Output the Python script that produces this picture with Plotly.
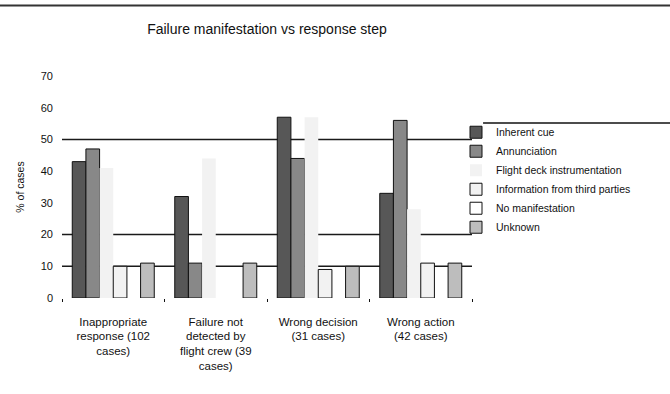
import plotly.graph_objects as go

categories = [
    "Inappropriate<br>response (102<br>cases)",
    "Failure not<br>detected by<br>flight crew (39<br>cases)",
    "Wrong decision<br>(31 cases)",
    "Wrong action<br>(42 cases)",
]
series_names = [
    "Inherent cue",
    "Annunciation",
    "Flight deck instrumentation",
    "Information from third parties",
    "No manifestation",
    "Unknown",
]
inherent_cue = [43, 32, 57, 33]
annunciation = [47, 11, 44, 56]
flight_deck = [41, 44, 57, 28]
third_parties = [10, 0, 9, 11]
no_manifestation = [0, 0, 0, 0]
unknown = [11, 11, 10, 11]
gridline_values = [10, 20, 50]
y_ticks = [0, 10, 20, 30, 40, 50, 60, 70]

series_values = [inherent_cue, annunciation, flight_deck, third_parties, no_manifestation, unknown]
fills = ["#575757", "#888888", "#f2f2f2", "#f2f2f2", "#ffffff", "#bdbdbd"]
outlines = ["#111111", "#111111", "rgba(0,0,0,0)", "#111111", "#111111", "#111111"]

fig = go.Figure()
for name, vals, fc, lc in zip(series_names, series_values, fills, outlines):
    # zero-height bars are not drawn (no stray outline on the baseline)
    shown = [v if v > 0 else None for v in vals]
    fig.add_trace(go.Bar(
        x=categories, y=shown, name=name,
        marker=dict(color=fc, line=dict(color=lc, width=1)),
    ))

for g in gridline_values:
    fig.add_hline(y=g, line=dict(color="#1a1a1a", width=1.5), layer="below")

# decorative frame lines (chart top border, legend top border)
fig.add_shape(type="line", xref="paper", yref="paper", x0=-0.2, x1=1.6,
              y0=1.318, y1=1.318, line=dict(color="#333333", width=2))
fig.add_shape(type="line", xref="paper", yref="paper", x0=1.027, x1=1.6,
              y0=0.788, y1=0.788, line=dict(color="#111111", width=1.5))

fig.update_layout(
    width=670, height=394,
    margin=dict(l=62, r=198, t=76, b=96),
    paper_bgcolor="white", plot_bgcolor="white",
    barmode="group", bargap=0.2, bargroupgap=0,
    font=dict(family="Arial, Liberation Sans, sans-serif", size=10, color="#111111"),
    title=dict(text="Failure manifestation vs response step", x=0.5, xref="paper",
               xanchor="center", y=0.925, yanchor="middle",
               font=dict(size=14, color="#111111")),
    showlegend=True,
    legend=dict(x=0.961, xanchor="left", y=0.812, yanchor="top",
                bgcolor="rgba(0,0,0,0)", font=dict(size=10.5),
                tracegroupgap=0, itemwidth=30),
    xaxis=dict(showgrid=False, showline=False, zeroline=False, automargin=False,
               tickson="boundaries", ticks="outside", ticklen=3, tickcolor="#111111",
               ticklabelstandoff=15, tickfont=dict(size=11.5)),
    yaxis=dict(range=[0, 70], tickvals=y_ticks, showgrid=False, zeroline=False,
               showline=False, ticks="", ticklabelstandoff=8, automargin=False,
               title=dict(text="% of cases", standoff=14, font=dict(size=10.5)),
               tickfont=dict(size=11)),
)

fig.write_html("out.html", post_script="document.body.style.margin='0';",
               config={"displayModeBar": False})
